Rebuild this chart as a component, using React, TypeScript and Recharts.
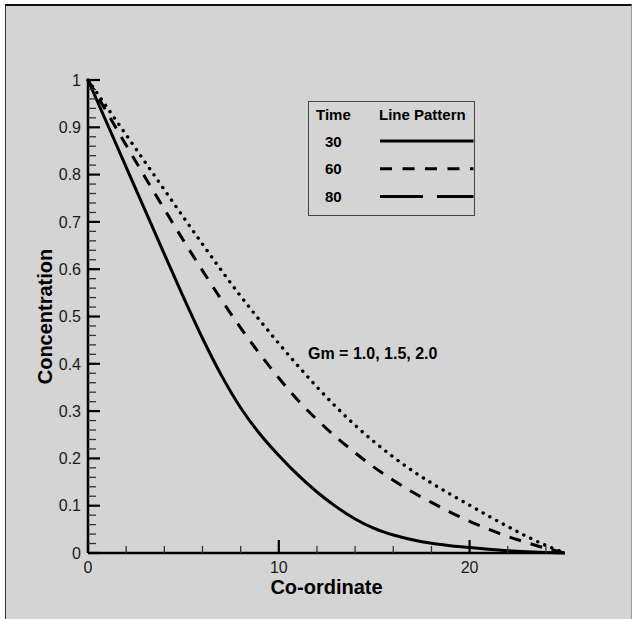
import React from 'react';
import { LineChart, Line, XAxis, YAxis } from 'recharts';

const xs = [0, 1, 2, 3, 4, 5, 6, 7, 8, 9, 10, 11, 12, 13, 14, 15, 16, 17, 18, 19, 20, 21, 22, 23, 24, 25];
const conc30 = [1, 0.908, 0.816, 0.724, 0.632, 0.541, 0.454, 0.375, 0.307, 0.252, 0.206, 0.165, 0.129, 0.098, 0.072, 0.052, 0.038, 0.028, 0.0205, 0.0155, 0.0115, 0.008, 0.005, 0.0027, 0.001, 0];
const conc60 = [1, 0.931, 0.862, 0.794, 0.727, 0.661, 0.597, 0.535, 0.476, 0.421, 0.37, 0.323, 0.282, 0.245, 0.212, 0.181, 0.154, 0.129, 0.107, 0.086, 0.067, 0.05, 0.035, 0.022, 0.01, 0];
const conc80 = [1, 0.942, 0.884, 0.826, 0.768, 0.71, 0.653, 0.597, 0.543, 0.492, 0.443, 0.396, 0.351, 0.309, 0.27, 0.235, 0.203, 0.174, 0.148, 0.124, 0.101, 0.078, 0.056, 0.035, 0.016, 0];

const xTicks = [0, 2, 4, 6, 8, 10, 12, 14, 16, 18, 20, 22, 24];
const xMajor = [0, 10, 20];
const yTicks = [0, 0.02, 0.04, 0.06, 0.08, 0.1, 0.12, 0.14, 0.16, 0.18, 0.2, 0.22, 0.24, 0.26, 0.28, 0.3, 0.32, 0.34, 0.36, 0.38, 0.4, 0.42, 0.44, 0.46, 0.48, 0.5, 0.52, 0.54, 0.56, 0.58, 0.6, 0.62, 0.64, 0.66, 0.68, 0.7, 0.72, 0.74, 0.76, 0.78, 0.8, 0.82, 0.84, 0.86, 0.88, 0.9, 0.92, 0.94, 0.96, 0.98, 1];
const yMajor = [0, 0.1, 0.2, 0.3, 0.4, 0.5, 0.6, 0.7, 0.8, 0.9, 1];

const seriesTimes = ['30', '60', '80'];
const legendHeader = ['Time', 'Line Pattern'];
const annotation = 'Gm = 1.0, 1.5, 2.0';
const xLabel = 'Co-ordinate';
const yLabel = 'Concentration';

const data = xs.map((x, i) => ({ x, c30: conc30[i], c60: conc60[i], c80: conc80[i] }));

const FONT = '"Liberation Sans", Arial, Helvetica, sans-serif';
const Y_MARGIN = 7;
const X_MARGIN = 8;

const isMajorY = (v: number) => yMajor.some((m) => Math.abs(m - v) < 1e-6);
const isMajorX = (v: number) => xMajor.includes(v);

const YTick = (props: any) => {
  const { x, y, payload } = props;
  const v = payload.value;
  const major = isMajorY(v);
  const x0 = x + Y_MARGIN;
  return (
    <g>
      <line x1={x0} x2={x0 + (major ? 12 : 8)} y1={y} y2={y} stroke={major ? '#000' : '#333'} strokeWidth={major ? 2.2 : 1.3} />
      {major && (
        <text x={x} y={y} dy="0.36em" textAnchor="end" fontFamily={FONT} fontSize={16} fill="#1a1a1a">
          {String(Math.round(v * 10) / 10)}
        </text>
      )}
    </g>
  );
};

const XTick = (props: any) => {
  const { x, y, payload } = props;
  const v = payload.value;
  const major = isMajorX(v);
  const y0 = y - X_MARGIN;
  return (
    <g>
      <line x1={x} x2={x} y1={y0} y2={y0 - (major ? 13 : 7)} stroke={major ? '#000' : '#333'} strokeWidth={major ? 2.2 : 1.3} />
      {major && (
        <text x={x} y={y} dy="0.75em" textAnchor="middle" fontFamily={FONT} fontSize={16} fill="#1a1a1a">
          {String(v)}
        </text>
      )}
    </g>
  );
};

export default function App() {
  return (
    <div style={{ position: 'absolute', left: 0, top: 0, width: 634, height: 619, background: '#fff', overflow: 'hidden' }}>
      <div
        style={{
          position: 'absolute',
          left: 5,
          top: 4,
          width: 627,
          height: 630,
          background: '#d4d4d4',
          borderTop: '2px solid #111',
          borderLeft: '1.5px solid #333',
          borderRight: '1px solid #999',
          boxSizing: 'border-box',
        }}
      />
      <div style={{ position: 'absolute', left: 0, top: 0 }}>
        <LineChart width={634} height={619} data={data} margin={{ top: 80, right: 69, bottom: 36, left: 28 }}>
          <XAxis
            dataKey="x"
            type="number"
            domain={[0, 25]}
            ticks={xTicks}
            interval={0}
            height={30}
            tickSize={0}
            tickMargin={X_MARGIN}
            tickLine={false}
            axisLine={{ stroke: '#000', strokeWidth: 2.5 }}
            tick={<XTick />}
            label={(p: any) => {
              const vb = p.viewBox;
              return (
                <text x={vb.x + vb.width / 2} y={vb.y + 41} textAnchor="middle" fontFamily={FONT} fontSize={20} fontWeight="bold" fill="#000">
                  {xLabel}
                </text>
              );
            }}
          />
          <YAxis
            type="number"
            domain={[0, 1]}
            ticks={yTicks}
            interval={0}
            width={60}
            tickSize={0}
            tickMargin={Y_MARGIN}
            tickLine={false}
            axisLine={{ stroke: '#000', strokeWidth: 2.5 }}
            tick={<YTick />}
            label={(p: any) => {
              const vb = p.viewBox;
              const cy = vb.y + vb.height / 2;
              return (
                <text transform={`translate(${vb.x + 24},${cy}) rotate(-90)`} textAnchor="middle" fontFamily={FONT} fontSize={20} fontWeight="bold" fill="#000">
                  {yLabel}
                </text>
              );
            }}
          />
          <Line type="monotone" dataKey="c30" stroke="#000" strokeWidth={3} dot={false} isAnimationActive={false} />
          <Line type="monotone" dataKey="c60" stroke="#000" strokeWidth={3} strokeDasharray="12 10" dot={false} isAnimationActive={false} />
          <Line type="monotone" dataKey="c80" stroke="#000" strokeWidth={3.4} strokeDasharray="0.1 7.6" strokeLinecap="round" dot={false} isAnimationActive={false} />
        </LineChart>
      </div>
      <svg width={634} height={619} style={{ position: 'absolute', left: 0, top: 0, pointerEvents: 'none' }}>
        <rect x={308.5} y={101.5} width={166} height={114} fill="none" stroke="#444" strokeWidth={1} />
        <text x={316} y={120} fontFamily={FONT} fontSize={15} fontWeight="bold" fill="#000">{legendHeader[0]}</text>
        <text x={379} y={120} fontFamily={FONT} fontSize={15} fontWeight="bold" fill="#000">{legendHeader[1]}</text>
        {seriesTimes.map((t, i) => (
          <text key={t} x={325} y={146.5 + i * 27.8} fontFamily={FONT} fontSize={15} fontWeight="bold" fill="#000">{t}</text>
        ))}
        <line x1={380} x2={473.5} y1={141} y2={141} stroke="#000" strokeWidth={3} />
        <line x1={380} x2={473.5} y1={168.7} y2={168.7} stroke="#000" strokeWidth={3} strokeDasharray="12 10.5" />
        <line x1={380} x2={473.5} y1={196.5} y2={196.5} stroke="#000" strokeWidth={3} strokeDasharray="43 14" />
        <text x={308} y={359} fontFamily={FONT} fontSize={16} fontWeight="bold" fill="#000">{annotation}</text>
      </svg>
    </div>
  );
}
